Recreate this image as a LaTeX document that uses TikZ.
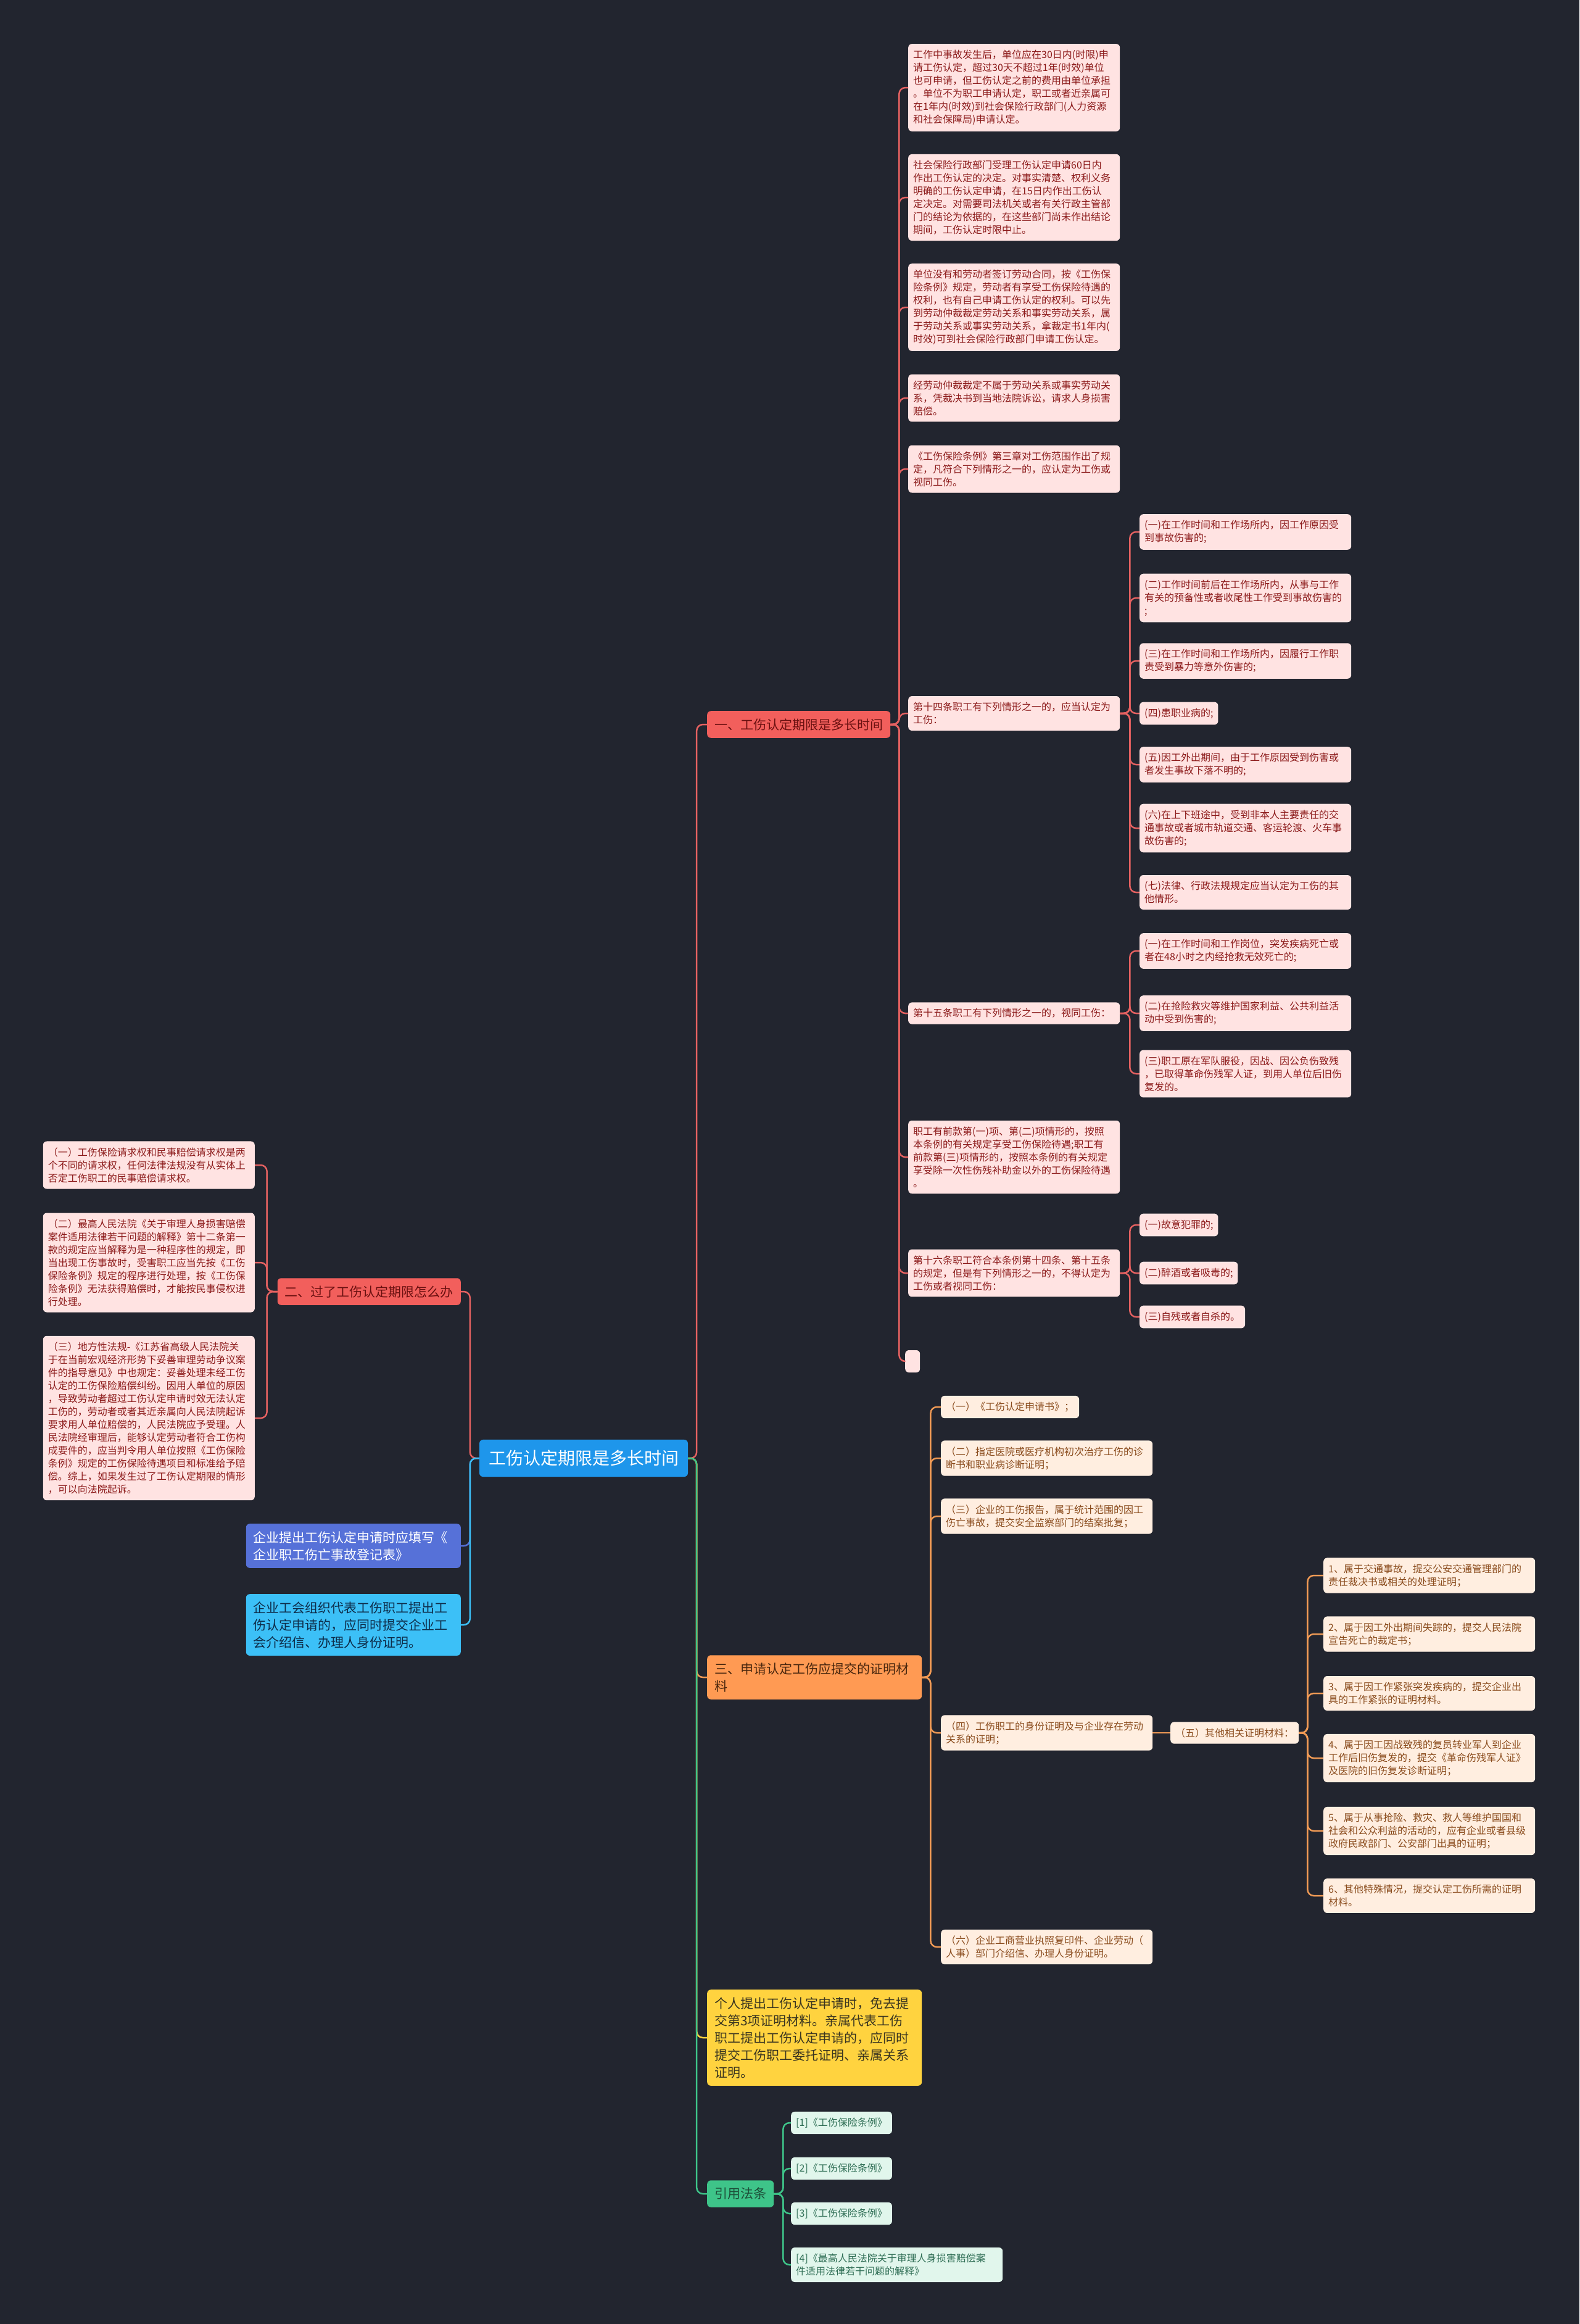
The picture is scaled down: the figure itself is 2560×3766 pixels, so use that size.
\documentclass[tikz,border=0pt]{standalone}
\usepackage{fontspec}
\setmainfont{Noto Sans CJK SC}
\definecolor{bgc}{HTML}{22252F}
\definecolor{rootc}{HTML}{1E96EB}
\definecolor{redc}{HTML}{F25F5C}
\definecolor{redtx}{HTML}{6A1010}
\definecolor{redl}{HTML}{E46161}
\definecolor{rnotefill}{HTML}{FFE3E2}
\definecolor{rnotetx}{HTML}{8C1A1A}
\definecolor{orc}{HTML}{FF9A53}
\definecolor{ortx}{HTML}{47250D}
\definecolor{orl}{HTML}{F09A55}
\definecolor{onotefill}{HTML}{FFEEE0}
\definecolor{onotetx}{HTML}{8A4B1C}
\definecolor{yelc}{HTML}{FFD33F}
\definecolor{yeltx}{HTML}{3A3520}
\definecolor{grc}{HTML}{3EC489}
\definecolor{grtx}{HTML}{1D4D38}
\definecolor{gnotefill}{HTML}{E1F6EC}
\definecolor{gnotetx}{HTML}{2F6E55}
\definecolor{bluc}{HTML}{5671D8}
\definecolor{cyac}{HTML}{3CC0F7}
\definecolor{cyatx}{HTML}{0E2D4A}

\begin{document}
\begin{tikzpicture}[x=1pt, y=-1pt,
    box/.style={rounded corners=6pt, align=left, anchor=west},
    root/.style={fill=rootc, text=white, rounded corners=6pt, font=\fontsize{28}{36}\selectfont, inner xsep=15pt, inner ysep=17pt},
    big/.style={box, font=\fontsize{21}{28}\selectfont, inner xsep=12pt, inner ysep=12pt},
    bigwide/.style={text width=324pt},
    rbig/.style={big, fill=redc, text=redtx},
    obig/.style={big, fill=orc, text=ortx},
    ybig/.style={big, fill=yelc, text=yeltx},
    gbig/.style={big, fill=grc, text=grtx},
    bbig/.style={big, fill=bluc, text=white},
    cbig/.style={big, fill=cyac, text=cyatx},
    note/.style={box, font=\fontsize{16}{21}\selectfont, inner xsep=8pt, inner ysep=10pt},
    wide/.style={text width=327pt},
    rnote/.style={note, fill=rnotefill, text=rnotetx},
    onote/.style={note, fill=onotefill, text=onotetx},
    gnote/.style={note, fill=gnotefill, text=gnotetx},
    link/.style={line width=2.5pt, rounded corners=10pt},
    rline/.style={link, draw=redl},
    oline/.style={link, draw=orl},
    yline/.style={link, draw=yelc},
    gline/.style={link, draw=grc},
    bline/.style={link, draw=bluc},
    cline/.style={link, draw=cyac}]
    \path[use as bounding box, fill=bgc] (0,0) rectangle (2560,3766);

    \node[root] (0) at (946,2363) {工伤认定期限是多长时间};
    \node[rbig] (1) at (1146,1174) {一、工伤认定期限是多长时间};
    \node[obig, bigwide] (2) at (1146,2718) {三、申请认定工伤应提交的证明材\\料};
    \node[ybig, bigwide] (3) at (1146,3302) {个人提出工伤认定申请时，免去提\\交第3项证明材料。亲属代表工伤\\职工提出工伤认定申请的，应同时\\提交工伤职工委托证明、亲属关系\\证明。};
    \node[gbig] (4) at (1146,3555) {引用法条};
    \node[rbig, anchor=east] (5) at (747,2093) {二、过了工伤认定期限怎么办};
    \node[bbig, bigwide, anchor=east] (6) at (747,2505) {企业提出工伤认定申请时应填写《\\企业职工伤亡事故登记表》};
    \node[cbig, bigwide, anchor=east] (7) at (747,2633) {企业工会组织代表工伤职工提出工\\伤认定申请的，应同时提交企业工\\会介绍信、办理人身份证明。};

    \node[rnote, wide, anchor=east] (8) at (413,1888) {（一）工伤保险请求权和民事赔偿请求权是两\\个不同的请求权，任何法律法规没有从实体上\\否定工伤职工的民事赔偿请求权。};
    \node[rnote, wide, anchor=east] (9) at (413,2046) {（二）最高人民法院《关于审理人身损害赔偿\\案件适用法律若干问题的解释》第十二条第一\\款的规定应当解释为是一种程序性的规定，即\\当出现工伤事故时，受害职工应当先按《工伤\\保险条例》规定的程序进行处理，按《工伤保\\险条例》无法获得赔偿时，才能按民事侵权进\\行处理。};
    \node[rnote, wide, anchor=east] (10) at (413,2298) {（三）地方性法规-《江苏省高级人民法院关\\于在当前宏观经济形势下妥善审理劳动争议案\\件的指导意见》中也规定：妥善处理未经工伤\\认定的工伤保险赔偿纠纷。因用人单位的原因\\，导致劳动者超过工伤认定申请时效无法认定\\工伤的，劳动者或者其近亲属向人民法院起诉\\要求用人单位赔偿的，人民法院应予受理。人\\民法院经审理后，能够认定劳动者符合工伤构\\成要件的，应当判令用人单位按照《工伤保险\\条例》规定的工伤保险待遇项目和标准给予赔\\偿。综上，如果发生过了工伤认定期限的情形\\，可以向法院起诉。};

    \node[rnote, wide] (11) at (1472,142) {工作中事故发生后，单位应在30日内(时限)申\\请工伤认定，超过30天不超过1年(时效)单位\\也可申请，但工伤认定之前的费用由单位承担\\。单位不为职工申请认定，职工或者近亲属可\\在1年内(时效)到社会保险行政部门(人力资源\\和社会保障局)申请认定。};
    \node[rnote, wide] (12) at (1472,320) {社会保险行政部门受理工伤认定申请60日内\\作出工伤认定的决定。对事实清楚、权利义务\\明确的工伤认定申请，在15日内作出工伤认\\定决定。对需要司法机关或者有关行政主管部\\门的结论为依据的，在这些部门尚未作出结论\\期间，工伤认定时限中止。};
    \node[rnote, wide] (13) at (1472,498) {单位没有和劳动者签订劳动合同，按《工伤保\\险条例》规定，劳动者有享受工伤保险待遇的\\权利，也有自己申请工伤认定的权利。可以先\\到劳动仲裁裁定劳动关系和事实劳动关系，属\\于劳动关系或事实劳动关系，拿裁定书1年内(\\时效)可到社会保险行政部门申请工伤认定。};
    \node[rnote, wide] (14) at (1472,645) {经劳动仲裁裁定不属于劳动关系或事实劳动关\\系，凭裁决书到当地法院诉讼，请求人身损害\\赔偿。};
    \node[rnote, wide] (15) at (1472,760) {《工伤保险条例》第三章对工伤范围作出了规\\定，凡符合下列情形之一的，应认定为工伤或\\视同工伤。};
    \node[rnote, wide] (16) at (1472,1156) {第十四条职工有下列情形之一的，应当认定为\\工伤：};
    \node[rnote, wide] (17) at (1472,1642) {第十五条职工有下列情形之一的，视同工伤：};
    \node[rnote, wide] (18) at (1472,1875) {职工有前款第(一)项、第(二)项情形的，按照\\本条例的有关规定享受工伤保险待遇;职工有\\前款第(三)项情形的，按照本条例的有关规定\\享受除一次性伤残补助金以外的工伤保险待遇\\。};
    \node[rnote, wide] (19) at (1472,2063) {第十六条职工符合本条例第十四条、第十五条\\的规定，但是有下列情形之一的，不得认定为\\工伤或者视同工伤：};
    \node[rnote, minimum width=24pt, minimum height=36pt] (20) at (1467,2206) {};

    \node[rnote, wide] (21) at (1847,862) {(一)在工作时间和工作场所内，因工作原因受\\到事故伤害的;};
    \node[rnote, wide] (22) at (1847,969) {(二)工作时间前后在工作场所内，从事与工作\\有关的预备性或者收尾性工作受到事故伤害的\\;};
    \node[rnote, wide] (23) at (1847,1071) {(三)在工作时间和工作场所内，因履行工作职\\责受到暴力等意外伤害的;};
    \node[rnote] (24) at (1847,1156) {(四)患职业病的;};
    \node[rnote, wide] (25) at (1847,1239) {(五)因工外出期间，由于工作原因受到伤害或\\者发生事故下落不明的;};
    \node[rnote, wide] (26) at (1847,1342) {(六)在上下班途中，受到非本人主要责任的交\\通事故或者城市轨道交通、客运轮渡、火车事\\故伤害的;};
    \node[rnote, wide] (27) at (1847,1446) {(七)法律、行政法规规定应当认定为工伤的其\\他情形。};
    \node[rnote, wide] (28) at (1847,1541) {(一)在工作时间和工作岗位，突发疾病死亡或\\者在48小时之内经抢救无效死亡的;};
    \node[rnote, wide] (29) at (1847,1642) {(二)在抢险救灾等维护国家利益、公共利益活\\动中受到伤害的;};
    \node[rnote, wide] (30) at (1847,1740) {(三)职工原在军队服役，因战、因公负伤致残\\，已取得革命伤残军人证，到用人单位后旧伤\\复发的。};
    \node[rnote] (31) at (1847,1985) {(一)故意犯罪的;};
    \node[rnote] (32) at (1847,2063) {(二)醉酒或者吸毒的;};
    \node[rnote] (33) at (1847,2134) {(三)自残或者自杀的。};

    \node[onote] (34) at (1525,2280) {（一）《工伤认定申请书》；};
    \node[onote, wide] (35) at (1525,2363) {（二）指定医院或医疗机构初次治疗工伤的诊\\断书和职业病诊断证明；};
    \node[onote, wide] (36) at (1525,2457) {（三）企业的工伤报告，属于统计范围的因工\\伤亡事故，提交安全监察部门的结案批复；};
    \node[onote, wide] (37) at (1525,2808) {（四）工伤职工的身份证明及与企业存在劳动\\关系的证明；};
    \node[onote, wide] (38) at (1525,3155) {（六）企业工商营业执照复印件、企业劳动（\\人事）部门介绍信、办理人身份证明。};
    \node[onote] (39) at (1897,2808) {（五）其他相关证明材料：};
    \node[onote, wide] (40) at (2145,2553) {1、属于交通事故，提交公安交通管理部门的\\责任裁决书或相关的处理证明；};
    \node[onote, wide] (41) at (2145,2648) {2、属于因工外出期间失踪的，提交人民法院\\宣告死亡的裁定书；};
    \node[onote, wide] (42) at (2145,2744) {3、属于因工作紧张突发疾病的，提交企业出\\具的工作紧张的证明材料。};
    \node[onote, wide] (43) at (2145,2849) {4、属于因工因战致残的复员转业军人到企业\\工作后旧伤复发的，提交《革命伤残军人证》\\及医院的旧伤复发诊断证明；};
    \node[onote, wide] (44) at (2145,2967) {5、属于从事抢险、救灾、救人等维护国国和\\社会和公众利益的活动的，应有企业或者县级\\政府民政部门、公安部门出具的证明；};
    \node[onote, wide] (45) at (2145,3072) {6、其他特殊情况，提交认定工伤所需的证明\\材料。};

    \node[gnote] (46) at (1282,3440) {[1]《工伤保险条例》};
    \node[gnote] (47) at (1282,3514) {[2]《工伤保险条例》};
    \node[gnote] (48) at (1282,3587) {[3]《工伤保险条例》};
    \node[gnote, wide] (49) at (1282,3670) {[4]《最高人民法院关于审理人身损害赔偿案\\件适用法律若干问题的解释》};

    \draw[rline] (0.east) -- ++(14,0) |- (1.west);
    \draw[oline] (0.east) -- ++(14,0) |- (2.west);
    \draw[yline] (0.east) -- ++(14,0) |- (3.west);
    \draw[gline] (0.east) -- ++(14,0) |- (4.west);
    \draw[rline] (0.west) -- ++(-15,0) |- (5.east);
    \draw[bline] (0.west) -- ++(-15,0) |- (6.east);
    \draw[cline] (0.west) -- ++(-15,0) |- (7.east);

    \draw[rline] (5.west) -- ++(-17,0) |- (8.east);
    \draw[rline] (5.west) -- ++(-17,0) |- (9.east);
    \draw[rline] (5.west) -- ++(-17,0) |- (10.east);

    \draw[rline] (1.east) -- ++(14,0) |- (11.west);
    \draw[rline] (1.east) -- ++(14,0) |- (12.west);
    \draw[rline] (1.east) -- ++(14,0) |- (13.west);
    \draw[rline] (1.east) -- ++(14,0) |- (14.west);
    \draw[rline] (1.east) -- ++(14,0) |- (15.west);
    \draw[rline] (1.east) -- ++(14,0) |- (16.west);
    \draw[rline] (1.east) -- ++(14,0) |- (17.west);
    \draw[rline] (1.east) -- ++(14,0) |- (18.west);
    \draw[rline] (1.east) -- ++(14,0) |- (19.west);
    \draw[rline] (1.east) -- ++(14,0) |- (20.west);

    \draw[rline] (16.east) -- ++(16,0) |- (21.west);
    \draw[rline] (16.east) -- ++(16,0) |- (22.west);
    \draw[rline] (16.east) -- ++(16,0) |- (23.west);
    \draw[rline] (16.east) -- ++(16,0) |- (24.west);
    \draw[rline] (16.east) -- ++(16,0) |- (25.west);
    \draw[rline] (16.east) -- ++(16,0) |- (26.west);
    \draw[rline] (16.east) -- ++(16,0) |- (27.west);
    \draw[rline] (17.east) -- ++(16,0) |- (28.west);
    \draw[rline] (17.east) -- ++(16,0) |- (29.west);
    \draw[rline] (17.east) -- ++(16,0) |- (30.west);
    \draw[rline] (19.east) -- ++(16,0) |- (31.west);
    \draw[rline] (19.east) -- ++(16,0) |- (32.west);
    \draw[rline] (19.east) -- ++(16,0) |- (33.west);

    \draw[oline] (2.east) -- ++(14,0) |- (34.west);
    \draw[oline] (2.east) -- ++(14,0) |- (35.west);
    \draw[oline] (2.east) -- ++(14,0) |- (36.west);
    \draw[oline] (2.east) -- ++(14,0) |- (37.west);
    \draw[oline] (2.east) -- ++(14,0) |- (38.west);
    \draw[oline] (37.east) -- (39.west);
    \draw[oline] (39.east) -- ++(14,0) |- (40.west);
    \draw[oline] (39.east) -- ++(14,0) |- (41.west);
    \draw[oline] (39.east) -- ++(14,0) |- (42.west);
    \draw[oline] (39.east) -- ++(14,0) |- (43.west);
    \draw[oline] (39.east) -- ++(14,0) |- (44.west);
    \draw[oline] (39.east) -- ++(14,0) |- (45.west);

    \draw[gline] (4.east) -- ++(15,0) |- (46.west);
    \draw[gline] (4.east) -- ++(15,0) |- (47.west);
    \draw[gline] (4.east) -- ++(15,0) |- (48.west);
    \draw[gline] (4.east) -- ++(15,0) |- (49.west);
\end{tikzpicture}
\end{document}
